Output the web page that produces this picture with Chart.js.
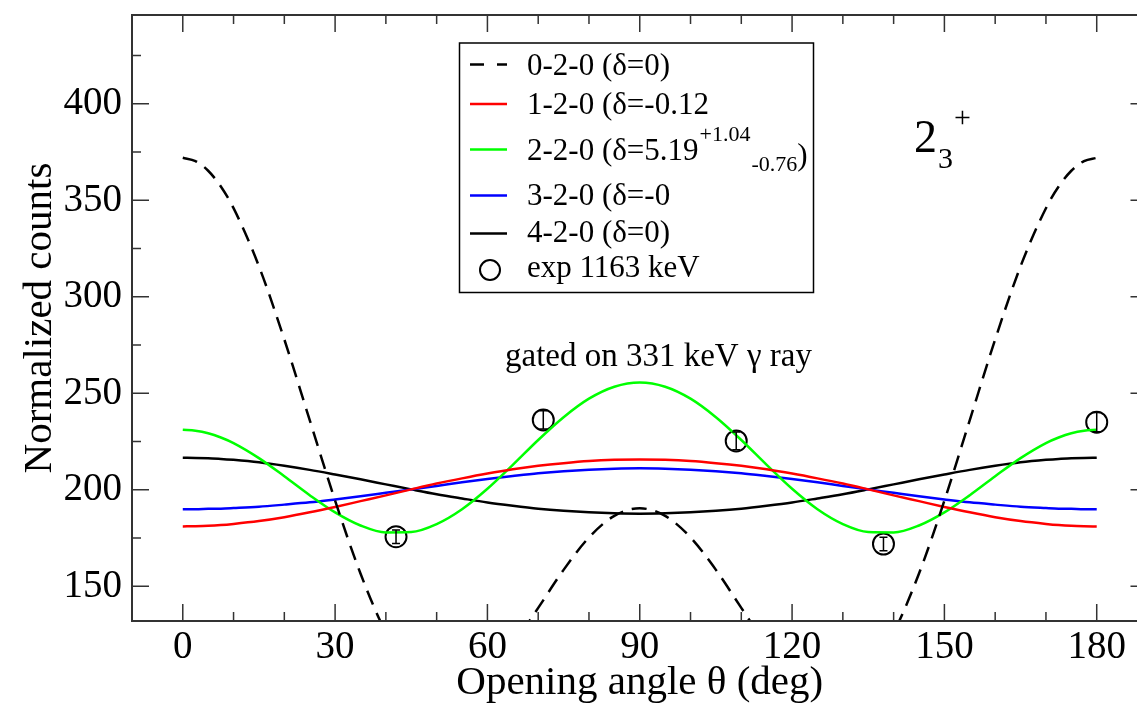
<!DOCTYPE html>
<html>
<head>
<meta charset="utf-8">
<script src="https://cdn.jsdelivr.net/npm/chart.js@4"></script>
<style>
  html, body { margin: 0; padding: 0; background: #fff; overflow: hidden; }
  canvas { display: block; }
</style>
</head>
<body>
<canvas id="chart" width="1160" height="708"></canvas>
<script>
const angles = [0, 2.5, 5, 7.5, 10, 15, 20, 25, 30, 35, 40, 45, 50, 55, 60, 65, 70, 75, 80, 85, 90,
  95, 100, 105, 110, 115, 120, 125, 130, 135, 140, 145, 150, 155, 160, 165, 170, 172.5, 175, 177.5, 180];

const w020 = [372.0, 370.3, 365.3, 357.1, 345.9, 315.8, 277.9, 236.1, 194.4, 156.6, 126.0, 105.0, 94.5, 94.5, 103.6, 119.4, 138.8, 158.5, 175.3, 186.5, 190.4,
  186.5, 175.3, 158.5, 138.8, 119.4, 103.6, 94.5, 94.5, 105.0, 126.0, 156.6, 194.4, 236.1, 277.9, 315.8, 345.9, 357.1, 365.3, 370.3, 372.0];
const w120 = [181.0, 181.1, 181.3, 181.7, 182.3, 183.8, 185.8, 188.3, 191.1, 194.1, 197.1, 200.2, 203.2, 205.9, 208.4, 210.6, 212.4, 213.8, 214.9, 215.5, 215.7,
  215.5, 214.9, 213.8, 212.4, 210.6, 208.4, 205.9, 203.2, 200.2, 197.1, 194.1, 191.1, 188.3, 185.8, 183.8, 182.3, 181.7, 181.3, 181.1, 181.0];
const w220 = [231.1, 230.6, 229.3, 227.1, 224.2, 216.4, 207.0, 197.2, 188.3, 181.5, 177.9, 178.1, 182.2, 189.9, 200.5, 212.9, 225.8, 237.6, 247.2, 253.4, 255.6,
  253.4, 247.2, 237.6, 225.8, 212.9, 200.5, 189.9, 182.2, 178.1, 177.9, 181.5, 188.3, 197.2, 207.0, 216.4, 224.2, 227.1, 229.3, 230.6, 231.1];
const w320 = [189.9, 189.9, 190.1, 190.2, 190.5, 191.2, 192.3, 193.5, 195.0, 196.6, 198.4, 200.2, 202.0, 203.9, 205.6, 207.1, 208.5, 209.6, 210.4, 210.9, 211.1,
  210.9, 210.4, 209.6, 208.5, 207.1, 205.6, 203.9, 202.0, 200.2, 198.4, 196.6, 195.0, 193.5, 192.3, 191.2, 190.5, 190.2, 190.1, 189.9, 189.9];
const w420 = [216.6, 216.5, 216.3, 216.0, 215.5, 214.2, 212.4, 210.3, 207.9, 205.4, 202.8, 200.2, 197.7, 195.5, 193.4, 191.7, 190.2, 189.1, 188.3, 187.8, 187.6,
  187.8, 188.3, 189.1, 190.2, 191.7, 193.4, 195.5, 197.7, 200.2, 202.8, 205.4, 207.9, 210.3, 212.4, 214.2, 215.5, 216.0, 216.3, 216.5, 216.6];

// experimental points 1163 keV
const expAngles = [42, 71, 109, 138, 180];
const expCounts = [175.7, 236.2, 225.3, 171.9, 235.0];
const expErrors = [3.5, 4.7, 4.6, 3.5, 5.0];

const xTicks = [0, 30, 60, 90, 120, 150, 180];
const yTicks = [150, 200, 250, 300, 350, 400];

const legendLabels = ['0-2-0 (δ=0)', '1-2-0 (δ=-0.12', '2-2-0 (δ=5.19', '3-2-0 (δ=-0', '4-2-0 (δ=0)', 'exp 1163 keV'];

const SERIF = '"Liberation Serif", "DejaVu Serif", serif';

const pts = vals => angles.map((a, i) => ({ x: a, y: vals[i] }));

const curve = (label, vals, color, dash) => ({
  label,
  data: pts(vals),
  borderColor: color,
  borderWidth: 2.5,
  borderDash: dash || [],
  pointRadius: 0,
  cubicInterpolationMode: 'monotone',
  fill: false
});

// no extra room for tick labels, the chart area is set by layout padding
const noPad = s => { s.paddingTop = 0; s.paddingBottom = 0; s.paddingLeft = 0; s.paddingRight = 0; };

// frame, inward ticks, legend box, labels and error bars
const decorations = {
  id: 'decorations',
  afterDatasetsDraw(chart) {
    const { ctx, chartArea: a, scales: { x, y } } = chart;
    ctx.save();

    // error bars
    ctx.strokeStyle = '#000';
    ctx.lineWidth = 1.5;
    expAngles.forEach((ang, i) => {
      const px = x.getPixelForValue(ang);
      const top = y.getPixelForValue(expCounts[i] + expErrors[i]);
      const bot = y.getPixelForValue(expCounts[i] - expErrors[i]);
      ctx.beginPath();
      ctx.moveTo(px, top); ctx.lineTo(px, bot);
      ctx.moveTo(px - 4, top); ctx.lineTo(px + 4, top);
      ctx.moveTo(px - 4, bot); ctx.lineTo(px + 4, bot);
      ctx.stroke();
    });

    // frame
    ctx.strokeStyle = '#333';
    ctx.lineWidth = 2;
    ctx.strokeRect(a.left, a.top, a.right - a.left, a.bottom - a.top);

    // ticks pointing inward
    ctx.lineWidth = 1.5;
    ctx.beginPath();
    for (let v = 0; v <= 180; v += 10) {
      const px = x.getPixelForValue(v);
      const len = v % 30 === 0 ? 17 : 9;
      ctx.moveTo(px, a.bottom); ctx.lineTo(px, a.bottom - len);
      ctx.moveTo(px, a.top); ctx.lineTo(px, a.top + len);
    }
    for (let v = 150; v <= 425; v += 25) {
      const py = y.getPixelForValue(v);
      const len = v % 50 === 0 ? 17 : 9;
      ctx.moveTo(a.left, py); ctx.lineTo(a.left + len, py);
      ctx.moveTo(a.right, py); ctx.lineTo(a.right - len, py);
    }
    ctx.stroke();

    // legend
    ctx.strokeStyle = '#000';
    ctx.lineWidth = 1.5;
    ctx.strokeRect(459.5, 43, 354, 249.5);
    const lineY = [64.6, 104, 149.4, 195.5, 233.6];
    const baseY = [75.4, 114, 159.5, 205, 242, 277];
    const ds = chart.data.datasets;
    for (let i = 0; i < 5; i++) {
      ctx.strokeStyle = ds[i].borderColor;
      ctx.lineWidth = 2.5;
      ctx.setLineDash(i === 0 ? [14, 13] : []);
      ctx.beginPath();
      ctx.moveTo(470, lineY[i]); ctx.lineTo(507, lineY[i]);
      ctx.stroke();
    }
    ctx.setLineDash([]);
    ctx.strokeStyle = '#000';
    ctx.lineWidth = 2;
    ctx.beginPath();
    ctx.arc(490, 270, 10, 0, Math.PI * 2);
    ctx.stroke();

    ctx.fillStyle = '#000';
    ctx.textBaseline = 'alphabetic';
    ctx.textAlign = 'left';
    ctx.font = '31px ' + SERIF;
    legendLabels.forEach((t, i) => ctx.fillText(t, 527, baseY[i]));
    // super/subscript for the 2-2-0 mixing ratio
    let cx = 527 + ctx.measureText(legendLabels[2]).width + 1;
    ctx.font = '22px ' + SERIF;
    ctx.fillText('+1.04', cx, 141);
    cx += ctx.measureText('+1.04').width + 1;
    ctx.fillText('-0.76', cx, 171);
    cx += ctx.measureText('-0.76').width;
    ctx.font = '31px ' + SERIF;
    ctx.fillText(')', cx, 165);

    // state label 2_3^+
    ctx.font = '46px ' + SERIF;
    ctx.fillText('2', 914, 152);
    ctx.font = '30px ' + SERIF;
    ctx.fillText('3', 938, 168);
    ctx.fillText('+', 954, 127);

    // gate note
    ctx.font = '33px ' + SERIF;
    ctx.fillText('gated on 331 keV γ ray', 505, 366);

    ctx.restore();
  }
};

new Chart(document.getElementById('chart'), {
  type: 'line',
  data: {
    datasets: [
      curve('0-2-0', w020, '#000000', [15, 9]),
      curve('1-2-0', w120, '#ff0000'),
      curve('2-2-0', w220, '#00ff00'),
      curve('3-2-0', w320, '#0000ff'),
      curve('4-2-0', w420, '#000000'),
      {
        type: 'scatter',
        label: 'exp 1163 keV',
        data: expAngles.map((a, i) => ({ x: a, y: expCounts[i] })),
        showLine: false,
        pointRadius: 10.5,
        pointBorderWidth: 2,
        pointBorderColor: '#000',
        pointBackgroundColor: 'rgba(0,0,0,0)'
      }
    ]
  },
  options: {
    responsive: false,
    animation: false,
    devicePixelRatio: 1,
    layout: { padding: { top: 15, right: 8, left: 0, bottom: 0 } },
    plugins: { legend: { display: false }, tooltip: { enabled: false } },
    scales: {
      x: {
        type: 'linear',
        min: -10,
        max: 190,
        grid: { display: false, drawTicks: false },
        border: { display: false },
        afterBuildTicks: s => { s.ticks = xTicks.map(v => ({ value: v })); },
        ticks: { padding: 3, color: '#000', maxRotation: 0, font: { family: SERIF, size: 39 } },
        title: { display: true, text: 'Opening angle θ (deg)', color: '#000', padding: 0, font: { family: SERIF, size: 41 } },
        afterFit: s => { s.height = 87; noPad(s); }
      },
      y: {
        min: 132,
        max: 446,
        grid: { display: false, drawTicks: false },
        border: { display: false },
        afterBuildTicks: s => { s.ticks = yTicks.map(v => ({ value: v })); },
        ticks: { padding: 10, color: '#000', font: { family: SERIF, size: 39 } },
        title: { display: true, text: 'Normalized counts', color: '#000', padding: { top: 16, bottom: 0 }, font: { family: SERIF, size: 41 } },
        afterFit: s => { s.width = 132; noPad(s); }
      }
    }
  },
  plugins: [decorations]
});
</script>
</body>
</html>
